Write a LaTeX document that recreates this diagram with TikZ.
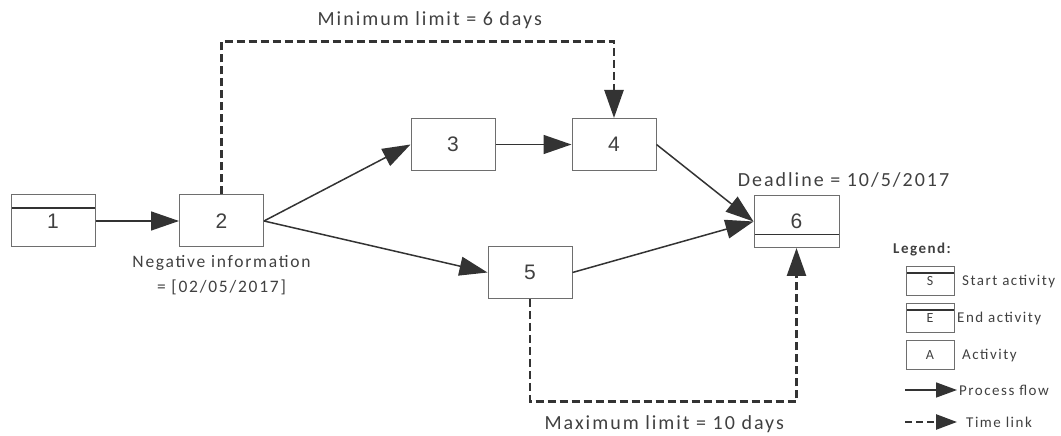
\documentclass[tikz,border=0pt]{standalone}
\usepackage{fontspec}
\setmainfont{Carlito}[LetterSpace=10]
\newfontfamily\arialfont{Liberation Sans}
\usetikzlibrary{arrows.meta,calc}

\definecolor{inkgray}{HTML}{404040}
\definecolor{boxgray}{HTML}{6E6E6E}
\definecolor{flowgray}{HTML}{333333}

\begin{document}
\begin{tikzpicture}[node distance=160pt]

  % Definitions
  \tikzstyle{Activity} = [rectangle, minimum width=84pt, minimum height=52pt, inner sep=0pt, draw=boxgray, line width=1pt, text=inkgray, font=\arialfont\fontsize{21}{24}\selectfont]
  \tikzstyle{Bar} = [path picture={\draw[flowgray, line width=1.5pt] ([yshift=-13pt]path picture bounding box.north west) -- ([yshift=-13pt]path picture bounding box.north east);}]
  \tikzstyle{BarLow} = [path picture={\draw[flowgray, line width=1.5pt] ([yshift=13pt]path picture bounding box.south west) -- ([yshift=13pt]path picture bounding box.south east);}]
  \tikzstyle{LegendBar} = [path picture={\draw[flowgray, line width=1.5pt] ([yshift=-6pt]path picture bounding box.north west) -- ([yshift=-6pt]path picture bounding box.north east);}]
  \tikzstyle{Note} = [text=inkgray, font=\fontsize{20}{25}\selectfont, inner sep=0pt]
  \tikzstyle{LegendBox} = [rectangle, minimum width=48pt, minimum height=29pt, inner sep=0pt, draw=boxgray, line width=1pt, text=inkgray, font=\fontsize{14}{16}\selectfont]
  \tikzstyle{LegendText} = [anchor=west, text=inkgray, font=\fontsize{15}{18}\selectfont, inner sep=0pt]
  \tikzstyle{flow} = [flowgray, line width=1.5pt, -{Triangle[length=28pt,width=19pt]}]
  \tikzstyle{timelink} = [flowgray, line width=2.5pt, dash pattern=on 8pt off 4pt, -{Triangle[length=28pt,width=19pt]}]

  \useasboundingbox (0,0) rectangle (1061pt,436pt);

  \node (n1) [Activity, Bar] at (53pt,215pt) {1};
  \node (n2) [Activity, right of=n1, xshift=8.5pt] {2};
  \node (n3) [Activity, right of=n2, xshift=71.5pt, yshift=76.5pt] {3};
  \node (n4) [Activity, right of=n3, xshift=1pt] {4};
  \node (n5) [Activity, right of=n2, xshift=148.5pt, yshift=-51.5pt] {5};
  \node (n6) [Activity, BarLow, minimum width=85pt, right of=n4, xshift=22.5pt, yshift=-77pt] {6};

  \draw [flow] (n1) -- (n2);
  \draw [flow] (n2.east) -- (n3.west);
  \draw [flow] (n3) -- (n4);
  \draw [flow] (n4.east) -- (n6.west);
  \draw [flow] (n2.east) -- (n5.west);
  \draw [flow] (n5.east) -- (n6.west);

  \draw [timelink] (n2.north) -- ++(0,153pt)
    -- node (minlimit) [Note, anchor=base, xshift=12pt, yshift=15.5pt] {Minimum limit = 6 days} ++(392.5pt,0) -- (n4.north);
  \draw [timelink] (n5.south) -- ++(0,-102.5pt)
    -- node (maxlimit) [Note, anchor=base, xshift=1pt, yshift=-28pt] {Maximum limit = 10 days} ++(266.5pt,0) -- (n6.south);

  \node (deadline) [Note, anchor=base] at ([xshift=47pt, yshift=8.5pt]n6.north) {Deadline = 10/5/2017};
  \node (neginfo) [Note, font=\fontsize{17.5}{25}\selectfont, align=center, anchor=north] at ([yshift=-8pt]n2.south) {Negative information\\= [02/05/2017]};

  % Legend
  \node (legend) [anchor=west, text=inkgray, inner sep=0pt, font=\bfseries\fontsize{15}{17}\selectfont] at (893pt,186pt) {Legend:};
  \node (legS) [LegendBox, LegendBar] at (930pt,154.5pt) {\raisebox{-4pt}{S}};
  \node (legE) [LegendBox, LegendBar, node distance=37pt, below of=legS] {\raisebox{-4pt}{E}};
  \node (legA) [LegendBox, node distance=37pt, below of=legE] {A};
  \coordinate (flowA) at (905pt,46pt);
  \coordinate (flowB) at (957pt,46pt);
  \coordinate (timeA) at (905pt,14pt);
  \coordinate (timeB) at (957pt,14pt);
  \draw [flowgray, line width=1.5pt, -{Triangle[length=21pt,width=15pt]}] (flowA) -- (flowB);
  \draw [flowgray, line width=2.5pt, dash pattern=on 7pt off 4pt, -{Triangle[length=21pt,width=15pt]}] (timeA) -- (timeB);

  \node (legStext) [LegendText] at (962pt,154.5pt) {Start activity};
  \node (legEtext) [LegendText] at (957pt,117.5pt) {End activity};
  \node (legAtext) [LegendText] at (962pt,80.5pt) {Activity};
  \node (flowtext) [LegendText] at (959pt,46pt) {Process flow};
  \node (timetext) [LegendText] at (966pt,14pt) {Time link};

\end{tikzpicture}
\end{document}
